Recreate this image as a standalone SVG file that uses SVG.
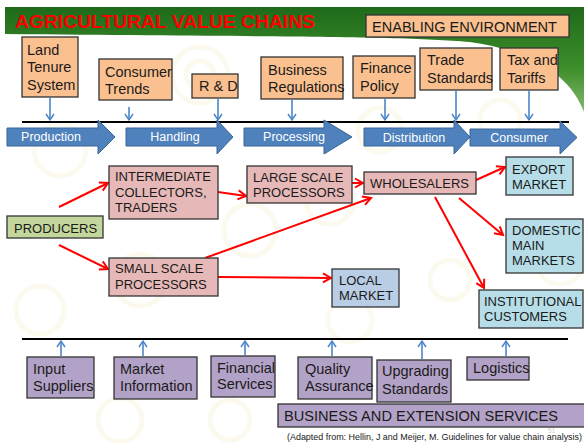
<svg xmlns="http://www.w3.org/2000/svg" width="584" height="443" viewBox="0 0 584 443">
<defs>
<linearGradient id="grn" x1="0" y1="0" x2="0" y2="1">
<stop offset="0" stop-color="#1f6a1a"/>
<stop offset="0.6" stop-color="#3f8f2c"/>
<stop offset="1" stop-color="#86b870"/>
</linearGradient>
<marker id="bh" markerUnits="userSpaceOnUse" markerWidth="10" markerHeight="10" refX="8" refY="5" orient="auto">
<path d="M2,1 L8,5 L2,9" fill="none" stroke="#4a86c8" stroke-width="1.5"/>
</marker>
<marker id="rh" markerUnits="userSpaceOnUse" markerWidth="12" markerHeight="12" refX="10" refY="6" orient="auto">
<path d="M2,1.5 L10,6 L2,10.5" fill="none" stroke="#ff0000" stroke-width="2"/>
</marker>
<style>
.t{font-family:"Liberation Sans",Arial,sans-serif;fill:#1a1a1a}
.en rect{fill:#fac08f;stroke:#333;stroke-width:1.3}
.en text{font-size:14.5px}
.mid rect{stroke:#333;stroke-width:1.3}
.mid text{font-size:13px}
.pk rect{fill:#e6b9b8}
.lb rect{fill:#b7dee8}
.bs rect{fill:#b3a2c7;stroke:#333;stroke-width:1.3}
.bs text{font-size:14.5px}
.pa path{fill:#4f81bd;stroke:#3a6497;stroke-width:1}
.pa text{font-family:"Liberation Sans",Arial,sans-serif;font-size:12.5px;fill:#fff;text-anchor:middle}
.bl{stroke:#4a86c8;stroke-width:1.6;fill:none}
.rd{stroke:#ff0000;stroke-width:2;fill:none}
.wm{fill:none;stroke:#f6f0cf;stroke-width:5;opacity:0.35}
</style>
</defs>
<rect width="584" height="443" fill="#ffffff"/>
<g id="watermark">
<circle class="wm" cx="200" cy="75" r="28"/><circle class="wm" cx="200" cy="75" r="14"/>
<circle class="wm" cx="60" cy="150" r="26"/><circle class="wm" cx="250" cy="230" r="26"/>
<circle class="wm" cx="330" cy="200" r="24"/><circle class="wm" cx="140" cy="280" r="26"/>
<circle class="wm" cx="40" cy="310" r="24"/><circle class="wm" cx="350" cy="320" r="22"/>
<circle class="wm" cx="560" cy="260" r="24"/><circle class="wm" cx="450" cy="280" r="20"/>
<circle class="wm" cx="120" cy="420" r="22"/><circle class="wm" cx="230" cy="420" r="20"/>
<circle class="wm" cx="500" cy="120" r="20"/><circle class="wm" cx="380" cy="130" r="22"/>
</g>
<path d="M5,7 H584 V112 C572,80 540,52 470,42 C400,36 300,37 5,34 Z" fill="url(#grn)"/>
<text x="15" y="28" font-family="Liberation Sans,Arial,sans-serif" font-weight="bold" font-size="18.8" fill="#ff0000" textLength="300" lengthAdjust="spacingAndGlyphs">AGRICULTURAL VALUE CHAINS</text>

<g class="en t">
<g id="enabling"><rect x="366" y="15" width="203" height="22"/><text x="372" y="32" textLength="185" lengthAdjust="spacingAndGlyphs">ENABLING ENVIRONMENT</text></g>
<g id="land"><rect x="22" y="37" width="56" height="60"/><text x="27" y="55">Land</text><text x="27" y="72">Tenure</text><text x="27" y="90">System</text></g>
<g id="consumer-trends"><rect x="99" y="59" width="73" height="41"/><text x="105" y="77">Consumer</text><text x="105" y="94">Trends</text></g>
<g id="rd"><rect x="192" y="74" width="46" height="24"/><text x="199" y="91">R &amp; D</text></g>
<g id="business-reg"><rect x="261" y="57" width="82" height="42"/><text x="268" y="75">Business</text><text x="268" y="92">Regulations</text></g>
<g id="finance"><rect x="353" y="56" width="62" height="42"/><text x="360" y="73">Finance</text><text x="360" y="91">Policy</text></g>
<g id="trade"><rect x="420" y="48" width="72" height="42"/><text x="427" y="65">Trade</text><text x="427" y="83">Standards</text></g>
<g id="tax"><rect x="500" y="48" width="58" height="42"/><text x="507" y="65">Tax and</text><text x="507" y="83">Tariffs</text></g>
</g>

<g id="connectors">
<line x1="22" y1="122" x2="569" y2="122" stroke="#000" stroke-width="2.2"/>
<line x1="22" y1="339" x2="568" y2="339" stroke="#000" stroke-width="2.2"/>
<g class="bl">
<line x1="50" y1="97" x2="50" y2="120" marker-end="url(#bh)"/>
<line x1="129" y1="107" x2="129" y2="120" marker-end="url(#bh)"/>
<line x1="218" y1="98" x2="218" y2="120" marker-end="url(#bh)"/>
<line x1="292" y1="99" x2="292" y2="120" marker-end="url(#bh)"/>
<line x1="385" y1="98" x2="385" y2="120" marker-end="url(#bh)"/>
<line x1="456" y1="90" x2="456" y2="120" marker-end="url(#bh)"/>
<line x1="529" y1="90" x2="529" y2="120" marker-end="url(#bh)"/>
<line x1="61" y1="356" x2="61" y2="341" marker-end="url(#bh)"/>
<line x1="143" y1="356" x2="143" y2="341" marker-end="url(#bh)"/>
<line x1="245" y1="355" x2="245" y2="341" marker-end="url(#bh)"/>
<line x1="332" y1="356" x2="332" y2="341" marker-end="url(#bh)"/>
<line x1="422" y1="359" x2="422" y2="341" marker-end="url(#bh)"/>
<line x1="506" y1="356" x2="506" y2="341" marker-end="url(#bh)"/>
</g>
<g class="rd">
<line x1="59" y1="207" x2="108" y2="183" marker-end="url(#rh)"/>
<line x1="59" y1="245" x2="108" y2="269" marker-end="url(#rh)"/>
<line x1="218" y1="192" x2="246" y2="196" marker-end="url(#rh)"/>
<line x1="205" y1="258" x2="371" y2="198" marker-end="url(#rh)"/>
<line x1="218" y1="277" x2="331" y2="278" marker-end="url(#rh)"/>
<line x1="352" y1="183" x2="363" y2="183" marker-end="url(#rh)"/>
<line x1="465" y1="185" x2="505" y2="167" marker-end="url(#rh)"/>
<line x1="459" y1="198" x2="503" y2="235" marker-end="url(#rh)"/>
<line x1="435" y1="197" x2="484" y2="288" marker-end="url(#rh)"/>
</g>
</g>

<g class="pa">
<g id="production"><path d="M7,128 H98 V120 L115,137 L98,154 V146 H7 Z"/><text x="51" y="141">Production</text></g>
<g id="handling"><path d="M126,128 H217 V120 L233,137 L217,154 V146 H126 Z"/><text x="175" y="141">Handling</text></g>
<g id="processing"><path d="M244,128 H324 V120 L352,137 L324,154 V146 H244 Z"/><text x="294" y="141">Processing</text></g>
<g id="distribution"><path d="M364,128 H454 V120 L470,137 L454,154 V146 H364 Z"/><text x="414" y="142">Distribution</text></g>
<g id="consumer"><path d="M470,129 H560 V121 L577,137.5 L560,154 V146 H470 Z"/><text x="519" y="142">Consumer</text></g>
</g>

<g class="mid t">
<g id="producers"><rect x="7" y="216" width="96" height="22" fill="#c3d69b"/><text x="14" y="233">PRODUCERS</text></g>
<g class="pk" id="intermediate"><rect x="109" y="166" width="109" height="53"/><text x="115" y="181">INTERMEDIATE</text><text x="115" y="197">COLLECTORS,</text><text x="115" y="212">TRADERS</text></g>
<g class="pk" id="small-scale"><rect x="109" y="258" width="109" height="38"/><text x="115" y="273">SMALL SCALE</text><text x="115" y="289">PROCESSORS</text></g>
<g class="pk" id="large-scale"><rect x="247" y="166" width="105" height="37"/><text x="253" y="182">LARGE SCALE</text><text x="253" y="197">PROCESSORS</text></g>
<g class="pk" id="wholesalers"><rect x="364" y="172" width="112" height="22"/><text x="370" y="188">WHOLESALERS</text></g>
<g class="lb" id="export"><rect x="506" y="157" width="67" height="38"/><text x="512" y="174">EXPORT</text><text x="512" y="189">MARKET</text></g>
<g class="lb" id="domestic"><rect x="506" y="219" width="77" height="54"/><text x="512" y="235">DOMESTIC</text><text x="512" y="250">MAIN</text><text x="512" y="265">MARKETS</text></g>
<g class="lb" id="institutional"><rect x="479" y="290" width="104" height="38"/><text x="484" y="306">INSTITUTIONAL</text><text x="484" y="321">CUSTOMERS</text></g>
<g id="local"><rect x="332" y="269" width="67" height="38" fill="#b9cde5"/><text x="339" y="285">LOCAL</text><text x="339" y="300">MARKET</text></g>
</g>

<g class="bs t">
<g id="input"><rect x="27" y="357" width="67" height="41"/><text x="33" y="374">Input</text><text x="33" y="391">Suppliers</text></g>
<g id="market-info"><rect x="114" y="357" width="83" height="42"/><text x="120" y="374">Market</text><text x="120" y="391">Information</text></g>
<g id="financial"><rect x="211" y="356" width="64" height="41"/><text x="217" y="373">Financial</text><text x="217" y="389">Services</text></g>
<g id="quality"><rect x="298" y="357" width="74" height="42"/><text x="305" y="374">Quality</text><text x="305" y="391">Assurance</text></g>
<g id="upgrading"><rect x="377" y="360" width="74" height="42"/><text x="382" y="376">Upgrading</text><text x="382" y="394">Standards</text></g>
<g id="logistics"><rect x="467" y="357" width="62" height="23"/><text x="473" y="373">Logistics</text></g>
<g id="bes"><rect x="278" y="404" width="310" height="23"/><text x="284" y="421" textLength="274" lengthAdjust="spacingAndGlyphs">BUSINESS AND EXTENSION SERVICES</text></g>
</g>
<text x="548" y="432.5" font-family="Liberation Sans,Arial,sans-serif" font-size="6.5" fill="#d8d0c0">51</text>
<text x="287" y="440" font-family="Liberation Sans,Arial,sans-serif" font-size="8.7" fill="#1a1a1a" textLength="295" lengthAdjust="spacingAndGlyphs">(Adapted from: Hellin, J and Meijer, M. Guidelines for value chain analysis)</text>
</svg>
